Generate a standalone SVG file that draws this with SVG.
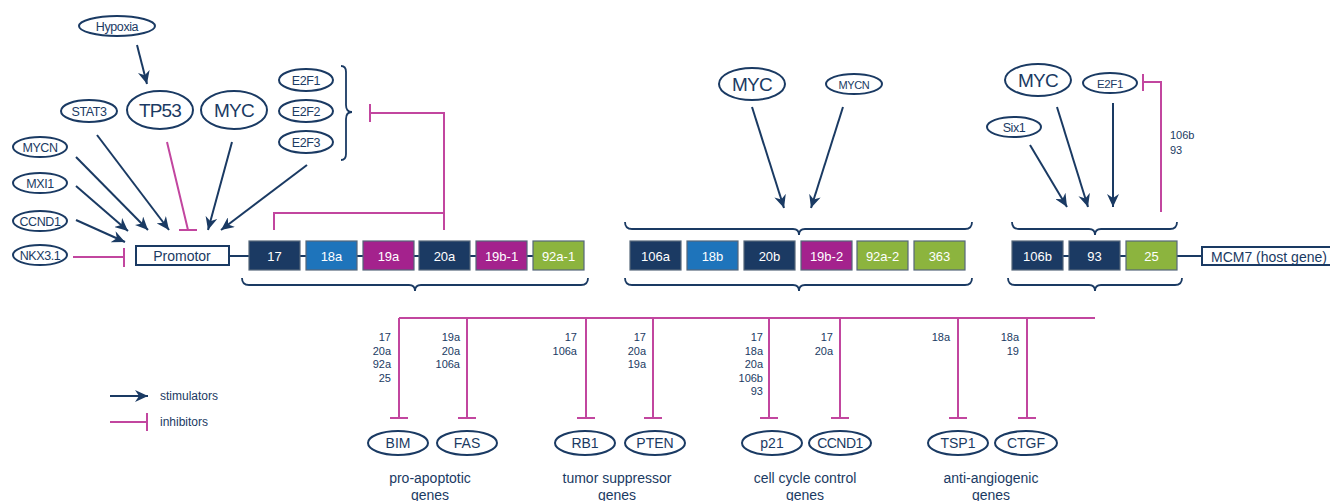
<svg xmlns="http://www.w3.org/2000/svg" width="1330" height="501" viewBox="0 0 1330 501">
<style>
text{font-family:"Liberation Sans",Arial,sans-serif;fill:#1a3a63}
.el{fill:#fff;stroke:#1a3a63;stroke-width:2}
.s{font-size:12.5px;letter-spacing:-0.4px}
.b{font-size:19px;letter-spacing:-0.8px}
.m{font-size:14px}
.n{font-size:11px}
.bx{stroke:#55677a;stroke-width:1.2}
.bt{font-size:13px;fill:#fff}
.nv{fill:#1b3a63}.bl{fill:#1e74bb}.mg{fill:#a4228d}.gr{fill:#8cb43e}
.st{stroke:#1a3a63;stroke-width:2;fill:none}
.ih{stroke:#c2469f;stroke-width:2;fill:none}
.br{stroke:#1a3a63;stroke-width:1.8;fill:none}
</style>
<defs>
<marker id="arr" markerUnits="userSpaceOnUse" markerWidth="14" markerHeight="12" refX="13" refY="6" orient="auto"><path d="M0,0 L13,6 L0,12 L4,6 z" fill="#1a3a63"/></marker>
</defs>

<g id="connectors">
<line class="st" x1="137" y1="45" x2="147" y2="84" marker-end="url(#arr)"/>
<line class="st" x1="76" y1="157" x2="148" y2="230" marker-end="url(#arr)"/>
<line class="st" x1="76" y1="186" x2="128" y2="231" marker-end="url(#arr)"/>
<line class="st" x1="76" y1="220" x2="125" y2="242" marker-end="url(#arr)"/>
<line class="st" x1="97" y1="135" x2="169" y2="230" marker-end="url(#arr)"/>
<line class="st" x1="232" y1="142" x2="208" y2="230" marker-end="url(#arr)"/>
<line class="st" x1="307" y1="165" x2="221" y2="230" marker-end="url(#arr)"/>
<path class="ih" d="M167,142 L188,230 M179,230 H197"/>
<path class="ih" d="M73,257 H124 M124,248 V267"/>
<path class="ih" d="M370,104 V122 M370,113 H444 V230 M274,230 V213 H444"/>
<line class="st" x1="752" y1="107" x2="784" y2="208" marker-end="url(#arr)"/>
<line class="st" x1="843" y1="107" x2="811" y2="208" marker-end="url(#arr)"/>
<line class="st" x1="1030" y1="145" x2="1067" y2="207" marker-end="url(#arr)"/>
<line class="st" x1="1057" y1="107" x2="1088" y2="207" marker-end="url(#arr)"/>
<line class="st" x1="1113" y1="103" x2="1113" y2="207" marker-end="url(#arr)"/>
<path class="ih" d="M1143,74 V91 M1143,82 H1161 V212"/>
<path class="st" d="M229,256 H583"/>
<path class="st" d="M1012,256 H1202"/>
<path class="ih" d="M399,318 H1095 M399,318 V418 M390,418 H408 M467,318 V418 M458,418 H476 M586,318 V418 M577,418 H595 M653,318 V418 M644,418 H662 M769,318 V418 M760,418 H778 M840,318 V418 M831,418 H849 M958,318 V418 M949,418 H967 M1027,318 V418 M1018,418 H1036"/>
<line class="st" x1="110" y1="396" x2="148" y2="396" marker-end="url(#arr)"/>
<path class="ih" d="M110,422 H147 M147,413 V431"/>
</g>

<g id="braces">
<path class="br" d="M341,66 q5,0 5,6 V105 q0,7 6,7 q-6,0 -6,7 V154 q0,6 -5,6"/>
<path class="br" d="M242,278 q0,7 7,7 H409 q6,0 6,6 q0,-6 6,-6 H581 q7,0 7,-7"/>
<path class="br" d="M625,222 q0,7 7,7 H793 q6,0 6,6 q0,-6 6,-6 H965 q7,0 7,-7"/>
<path class="br" d="M625,278 q0,7 7,7 H793 q6,0 6,6 q0,-6 6,-6 H965 q7,0 7,-7"/>
<path class="br" d="M1012,222 q0,7 7,7 H1089 q6,0 6,6 q0,-6 6,-6 H1170 q7,0 7,-7"/>
<path class="br" d="M1008,278 q0,7 7,7 H1089 q6,0 6,6 q0,-6 6,-6 H1175 q7,0 7,-7"/>
</g>

<g id="hypoxia"><ellipse class="el" cx="117" cy="26" rx="38" ry="10"/><text class="s" x="117" y="30.5" text-anchor="middle">Hypoxia</text></g>
<g id="stat3"><ellipse class="el" cx="89" cy="111" rx="28" ry="11"/><text class="s" x="89" y="115.5" text-anchor="middle">STAT3</text></g>
<g id="tp53"><ellipse class="el" cx="160" cy="110" rx="33" ry="19"/><text class="b" x="160" y="117" text-anchor="middle">TP53</text></g>
<g id="myc1"><ellipse class="el" cx="234" cy="110" rx="33" ry="19"/><text class="b" x="234" y="117" text-anchor="middle">MYC</text></g>
<g id="e2f1a"><ellipse class="el" cx="306" cy="80" rx="27" ry="11"/><text class="s" x="306" y="84.5" text-anchor="middle">E2F1</text></g>
<g id="e2f2"><ellipse class="el" cx="306" cy="111" rx="27" ry="11"/><text class="s" x="306" y="115.5" text-anchor="middle">E2F2</text></g>
<g id="e2f3"><ellipse class="el" cx="306" cy="142" rx="27" ry="11"/><text class="s" x="306" y="146.5" text-anchor="middle">E2F3</text></g>
<g id="mycn1"><ellipse class="el" cx="40" cy="147" rx="27" ry="10"/><text class="s" x="40" y="151.5" text-anchor="middle">MYCN</text></g>
<g id="mxi1"><ellipse class="el" cx="40" cy="183" rx="27" ry="10"/><text class="s" x="40" y="187.5" text-anchor="middle">MXI1</text></g>
<g id="ccnd1a"><ellipse class="el" cx="40" cy="221" rx="27" ry="10"/><text class="s" x="40" y="225.5" text-anchor="middle">CCND1</text></g>
<g id="nkx31"><ellipse class="el" cx="40" cy="255" rx="27" ry="10"/><text class="s" x="40" y="259.5" text-anchor="middle">NKX3.1</text></g>
<g id="promotor"><rect x="136" y="246" width="93" height="19" fill="#fff" stroke="#1a3a63" stroke-width="2"/><text class="m" x="182" y="261" text-anchor="middle">Promotor</text></g>

<g id="cluster1">
<rect class="bx nv" x="249" y="241" width="51" height="29"/><text class="bt" x="274.5" y="260.5" text-anchor="middle">17</text>
<rect class="bx bl" x="306" y="241" width="51" height="29"/><text class="bt" x="331.5" y="260.5" text-anchor="middle">18a</text>
<rect class="bx mg" x="363" y="241" width="51" height="29"/><text class="bt" x="388.5" y="260.5" text-anchor="middle">19a</text>
<rect class="bx nv" x="419" y="241" width="51" height="29"/><text class="bt" x="444.5" y="260.5" text-anchor="middle">20a</text>
<rect class="bx mg" x="476" y="241" width="51" height="29"/><text class="bt" x="501.5" y="260.5" text-anchor="middle">19b-1</text>
<rect class="bx gr" x="533" y="241" width="51" height="29"/><text class="bt" x="558.5" y="260.5" text-anchor="middle">92a-1</text>
</g>

<g id="myc2"><ellipse class="el" cx="752" cy="84" rx="33" ry="16"/><text class="b" x="752" y="91" text-anchor="middle">MYC</text></g>
<g id="mycn2"><ellipse class="el" cx="854" cy="84" rx="28" ry="10"/><text class="s" x="854" y="88.5" text-anchor="middle" style="font-size:11px">MYCN</text></g>
<g id="cluster2">
<rect class="bx nv" x="630" y="241" width="51" height="29"/><text class="bt" x="655.5" y="260.5" text-anchor="middle">106a</text>
<rect class="bx bl" x="687" y="241" width="51" height="29"/><text class="bt" x="712.5" y="260.5" text-anchor="middle">18b</text>
<rect class="bx nv" x="744" y="241" width="51" height="29"/><text class="bt" x="769.5" y="260.5" text-anchor="middle">20b</text>
<rect class="bx mg" x="801" y="241" width="51" height="29"/><text class="bt" x="826.5" y="260.5" text-anchor="middle">19b-2</text>
<rect class="bx gr" x="857" y="241" width="51" height="29"/><text class="bt" x="882.5" y="260.5" text-anchor="middle">92a-2</text>
<rect class="bx gr" x="914" y="241" width="51" height="29"/><text class="bt" x="939.5" y="260.5" text-anchor="middle">363</text>
</g>

<g id="myc3"><ellipse class="el" cx="1038" cy="80" rx="33" ry="16"/><text class="b" x="1038" y="87" text-anchor="middle">MYC</text></g>
<g id="e2f1b"><ellipse class="el" cx="1110" cy="83" rx="27" ry="10"/><text class="s" x="1110" y="87.5" text-anchor="middle" style="font-size:11.5px">E2F1</text></g>
<g id="six1"><ellipse class="el" cx="1014" cy="127" rx="27" ry="10"/><text class="s" x="1014" y="131.5" text-anchor="middle">Six1</text></g>
<text class="n" x="1170" y="139">106b</text>
<text class="n" x="1170" y="154">93</text>
<g id="cluster3">
<rect class="bx nv" x="1012" y="241" width="51" height="29"/><text class="bt" x="1037.5" y="260.5" text-anchor="middle">106b</text>
<rect class="bx nv" x="1069" y="241" width="51" height="29"/><text class="bt" x="1094.5" y="260.5" text-anchor="middle">93</text>
<rect class="bx gr" x="1126" y="241" width="51" height="29"/><text class="bt" x="1151.5" y="260.5" text-anchor="middle">25</text>
</g>
<g id="mcm7"><rect x="1202" y="247" width="140" height="18" fill="#fff" stroke="#1a3a63" stroke-width="2"/><text class="m" x="1211" y="261.5">MCM7 (host gene)</text></g>

<g id="labels" class="n" text-anchor="end">
<text x="391" y="341">17</text><text x="391" y="354.5">20a</text><text x="391" y="368">92a</text><text x="391" y="381.5">25</text>
<text x="460" y="341">19a</text><text x="460" y="354.5">20a</text><text x="460" y="368">106a</text>
<text x="577" y="341">17</text><text x="577" y="354.5">106a</text>
<text x="646" y="341">17</text><text x="646" y="354.5">20a</text><text x="646" y="368">19a</text>
<text x="763" y="341">17</text><text x="763" y="354.5">18a</text><text x="763" y="368">20a</text><text x="763" y="381.5">106b</text><text x="763" y="395">93</text>
<text x="833" y="341">17</text><text x="833" y="354.5">20a</text>
<text x="950" y="341">18a</text>
<text x="1019" y="341">18a</text><text x="1019" y="354.5">19</text>
</g>

<g id="bim"><ellipse class="el" cx="398" cy="443" rx="30" ry="12"/><text class="m" x="398" y="448" text-anchor="middle">BIM</text></g>
<g id="fas"><ellipse class="el" cx="467" cy="443" rx="30" ry="12"/><text class="m" x="467" y="448" text-anchor="middle">FAS</text></g>
<g id="rb1"><ellipse class="el" cx="585" cy="443" rx="30" ry="12"/><text class="m" x="585" y="448" text-anchor="middle">RB1</text></g>
<g id="pten"><ellipse class="el" cx="655" cy="443" rx="30" ry="12"/><text class="m" x="655" y="448" text-anchor="middle">PTEN</text></g>
<g id="p21"><ellipse class="el" cx="772" cy="443" rx="30" ry="12"/><text class="m" x="772" y="448" text-anchor="middle">p21</text></g>
<g id="ccnd1b"><ellipse class="el" cx="840" cy="443" rx="31" ry="12"/><text class="m" x="840" y="448" text-anchor="middle" style="letter-spacing:-0.5px">CCND1</text></g>
<g id="tsp1"><ellipse class="el" cx="958" cy="443" rx="30" ry="12"/><text class="m" x="958" y="448" text-anchor="middle">TSP1</text></g>
<g id="ctgf"><ellipse class="el" cx="1026" cy="443" rx="31" ry="12"/><text class="m" x="1026" y="448" text-anchor="middle">CTGF</text></g>

<g id="groups" class="m" text-anchor="middle">
<text x="430" y="483">pro-apoptotic</text><text x="430" y="500">genes</text>
<text x="617" y="483">tumor suppressor</text><text x="617" y="500">genes</text>
<text x="805" y="483">cell cycle control</text><text x="805" y="500">genes</text>
<text x="991" y="483">anti-angiogenic</text><text x="991" y="500">genes</text>
</g>

<g id="legend">
<text x="160" y="400" style="font-size:12px">stimulators</text>
<text x="160" y="426" style="font-size:12px">inhibitors</text>
</g>
</svg>
